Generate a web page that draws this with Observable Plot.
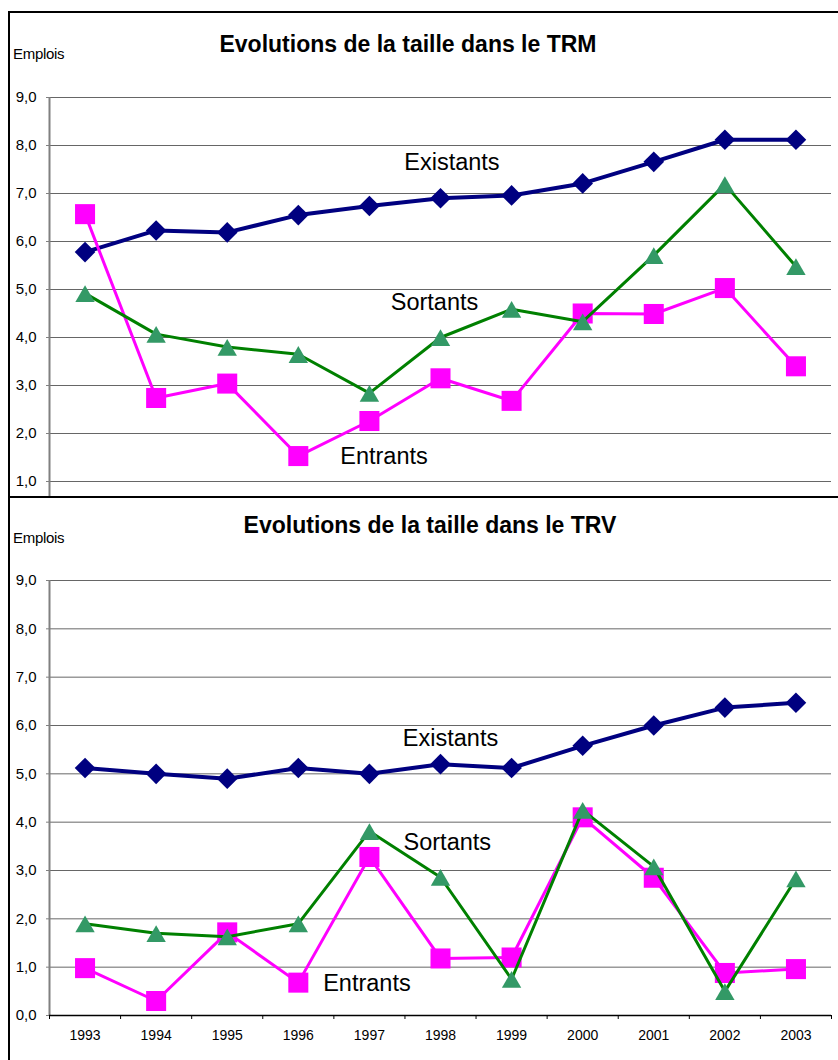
<!DOCTYPE html>
<html><head><meta charset="utf-8">
<script src="https://cdn.jsdelivr.net/npm/d3@7"></script>
<script src="https://cdn.jsdelivr.net/npm/@observablehq/plot@0.6"></script>
<style>
body{margin:0;background:#fff;font-family:"Liberation Sans",Arial,sans-serif;}
#root{position:relative;width:838px;height:1060px;overflow:hidden;background:#fff;}
.panel{position:absolute;left:0;width:838px;overflow:hidden;background:#fff;}
.panel svg{position:absolute;left:0;top:0;}
.title{position:absolute;font-weight:bold;font-size:23px;line-height:1;white-space:nowrap;transform:translateX(-50%);color:#000;}
.unit{position:absolute;font-size:15px;line-height:1;color:#000;letter-spacing:-0.3px;}
.hline{position:absolute;background:#000;}
</style></head><body><div id="root"></div>
<script>
// ---- data ----
const years = [1993, 1994, 1995, 1996, 1997, 1998, 1999, 2000, 2001, 2002, 2003];
const yTicksTRM = [1, 2, 3, 4, 5, 6, 7, 8, 9];      // the TRM panel is cropped just below 1,0
const yTicksTRV = [0, 1, 2, 3, 4, 5, 6, 7, 8, 9];
const seriesNames = ["Existants", "Sortants", "Entrants"];

const trmExistants = [5.78, 6.23, 6.19, 6.55, 6.74, 6.90, 6.96, 7.21, 7.66, 8.12, 8.12];
const trmSortants  = [4.92, 4.07, 3.80, 3.65, 2.84, 4.00, 4.59, 4.33, 5.71, 7.19, 5.48];
const trmEntrants  = [6.57, 2.74, 3.04, 1.53, 2.26, 3.15, 2.68, 4.50, 4.49, 5.03, 3.40];

const trvExistants = [5.12, 5.00, 4.90, 5.12, 5.00, 5.20, 5.12, 5.58, 6.00, 6.37, 6.47];
const trvSortants  = [1.90, 1.70, 1.63, 1.90, 3.81, 2.86, 0.75, 4.25, 3.08, 0.50, 2.83];
const trvEntrants  = [0.98, 0.30, 1.72, 0.68, 3.28, 1.18, 1.20, 4.10, 2.85, 0.88, 0.96];

// label anchors (in data units) for the in-chart series names
const trmLabelX = [1997.49, 1997.30, 1996.59];
const trmLabelY = [7.64, 4.72, 1.53];
const trvLabelX = [1997.47, 1997.48, 1996.35];
const trvLabelY = [5.74, 3.57, 0.67];

const titleTRM = "Evolutions de la taille dans le TRM";
const titleTRV = "Evolutions de la taille dans le TRV";
const unitLabel = "Emplois";

// ---- drawing ----
const fmt = d => d.toFixed(1).replace(".", ",");
const x0 = years[0] - 0.5, x1 = years[years.length - 1] + 0.5;
const bounds = d3.range(x0, x1 + 0.001, 1);
const rows = s => years.map((yr, i) => ({year: yr, v: s[i]}));

function chart({ex, so, en, lx, ly, ticks, height, marginTop, marginBottom, showX}) {
  const labels = seriesNames.map((n, i) => ({name: n, x: lx[i], y: ly[i]}));
  const marks = [
    Plot.gridY({ticks, stroke: "#000", strokeOpacity: 0.6, strokeWidth: 1}),
    Plot.axisY({ticks, tickFormat: fmt, tickSize: 3, tickPadding: 10, fontSize: 15,
                stroke: "#808080", fill: "#000", label: null}),
    Plot.ruleX([x0], {stroke: "#808080", strokeWidth: 2}),
  ];
  if (showX) {
    marks.push(
      Plot.ruleY([0], {stroke: "#000", strokeWidth: 1.5}),
      Plot.axisX({ticks: bounds, tickSize: 4, tickFormat: () => "", stroke: "#000", label: null}),
      Plot.axisX({ticks: years, tickSize: 0, tickPadding: 15, tickFormat: d => String(d),
                  fontSize: 14, fill: "#000", label: null})
    );
  }
  marks.push(
    Plot.line(rows(ex), {x: "year", y: "v", stroke: "#000080", strokeWidth: 4}),
    Plot.dot(rows(ex), {x: "year", y: "v", symbol: "diamond2", r: 9.3, fill: "#000080"}),
    Plot.line(rows(en), {x: "year", y: "v", stroke: "#FF00FF", strokeWidth: 3}),
    Plot.dot(rows(en), {x: "year", y: "v", symbol: "square", r: 11.3, fill: "#FF00FF"}),
    Plot.line(rows(so), {x: "year", y: "v", stroke: "#008000", strokeWidth: 3}),
    Plot.dot(rows(so), {x: "year", y: "v", symbol: "triangle", r: 7.2, fill: "#339966", dy: 3}),
    Plot.text(labels, {x: "x", y: "y", text: "name", textAnchor: "start", fontSize: 23.5, fill: "#000"})
  );
  return Plot.plot({
    width: 838, height, marginLeft: 49, marginRight: 7, marginTop, marginBottom,
    style: {fontFamily: "'Liberation Sans', Arial, sans-serif", background: "transparent", color: "#000"},
    x: {type: "linear", domain: [x0, x1], axis: showX ? undefined : null},
    y: {domain: [0, 9]},
    marks
  });
}

const root = document.getElementById("root");

const topPanel = document.createElement("div");
topPanel.className = "panel"; topPanel.style.top = "0px"; topPanel.style.height = "497px";
topPanel.appendChild(chart({ex: trmExistants, so: trmSortants, en: trmEntrants, lx: trmLabelX, ly: trmLabelY,
                       ticks: yTicksTRM, height: 529, marginTop: 97, marginBottom: 0, showX: false}));
root.appendChild(topPanel);

const botPanel = document.createElement("div");
botPanel.className = "panel"; botPanel.style.top = "497px"; botPanel.style.height = "563px";
botPanel.appendChild(chart({ex: trvExistants, so: trvSortants, en: trvEntrants, lx: trvLabelX, ly: trvLabelY,
                       ticks: yTicksTRV, height: 563, marginTop: 83, marginBottom: 45, showX: true}));
root.appendChild(botPanel);

function addText(cls, txt, left, topPx) {
  const d = document.createElement("div");
  d.className = cls; d.textContent = txt;
  d.style.left = left + "px"; d.style.top = topPx + "px";
  root.appendChild(d);
}
addText("title", titleTRM, 408, 32.5);
addText("title", titleTRV, 430, 513.5);
addText("unit", unitLabel, 13, 45.5);
addText("unit", unitLabel, 13, 529.5);

function addLine(l, t, w, h) {
  const d = document.createElement("div");
  d.className = "hline";
  Object.assign(d.style, {left: l + "px", top: t + "px", width: w + "px", height: h + "px"});
  root.appendChild(d);
}
addLine(8, 11, 830, 2);   // top frame
addLine(8, 11, 2, 1049);  // left frame
addLine(8, 496, 830, 2);  // divider between panels
</script>
</body></html>
